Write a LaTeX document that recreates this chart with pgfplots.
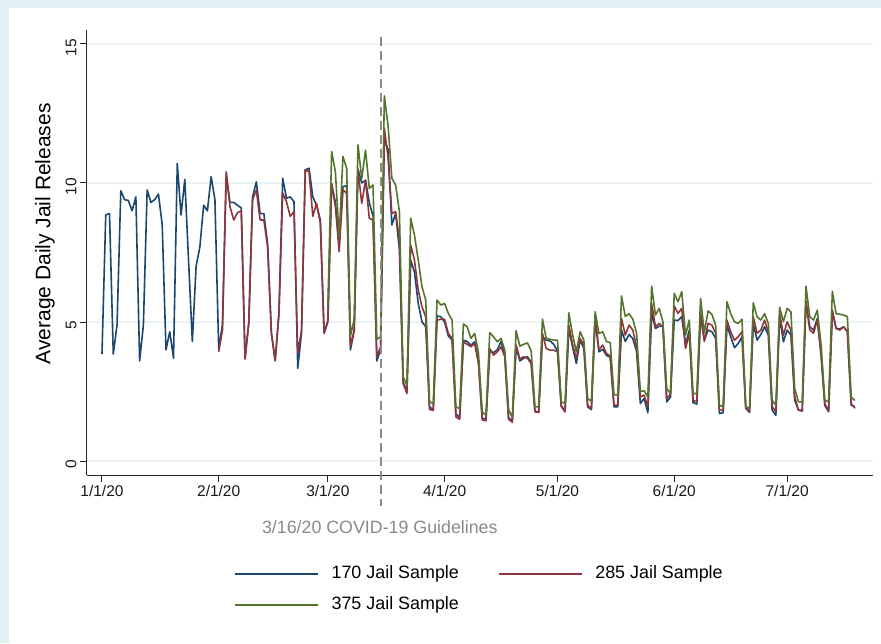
\documentclass[border=0pt]{standalone}
\usepackage{pgfplots}
\pgfplotsset{compat=1.18}
\usepackage{pgfplotstable}
\usepackage{fontspec}
\setmainfont{Liberation Sans}

\definecolor{sNavy}{HTML}{1A476F}
\definecolor{sMaroon}{HTML}{90353B}
\definecolor{sGreen}{HTML}{55752F}
\definecolor{sGrid}{HTML}{EAF2F3}
\definecolor{sBack}{HTML}{E0F0F4}
\definecolor{sLine}{HTML}{8A8A8A}

% day index (0 = 1/1/20), average daily releases
\pgfplotstableread{
d v
0 3.85
1 8.85
2 8.90
3 3.85
4 4.90
5 9.72
6 9.40
7 9.37
8 9.00
9 9.50
10 3.60
11 4.90
12 9.75
13 9.30
14 9.40
15 9.60
16 8.50
17 4.00
18 4.65
19 3.70
20 10.70
21 8.85
22 10.13
23 7.20
24 4.30
25 7.00
26 7.70
27 9.20
28 9.00
29 10.23
30 9.40
31 4.05
32 4.90
33 10.30
34 9.30
35 9.30
36 9.20
37 9.10
38 3.70
39 5.00
40 9.50
41 10.04
42 8.90
43 8.90
44 7.80
45 4.60
46 3.60
47 5.30
48 10.17
49 9.45
50 9.50
51 9.33
52 3.34
53 4.60
54 10.47
55 10.53
56 9.50
57 9.20
58 8.67
59 4.60
60 5.00
61 9.95
62 9.30
63 7.90
64 9.87
65 9.90
66 4.00
67 4.70
68 10.50
69 10.00
70 10.10
71 9.30
72 8.80
73 3.60
74 4.00
75 11.55
76 11.20
77 8.49
78 8.90
79 7.60
80 2.85
81 2.50
82 7.23
83 6.80
84 5.67
85 5.01
86 4.83
87 1.95
88 1.85
89 5.22
90 5.19
91 5.00
92 4.50
93 4.35
94 1.71
95 1.55
96 4.35
97 4.30
98 4.17
99 4.29
100 3.60
101 1.55
102 1.50
103 3.95
104 3.90
105 4.00
106 4.30
107 3.80
108 1.55
109 1.45
110 4.10
111 3.60
112 3.70
113 3.75
114 3.55
115 1.80
116 1.75
117 4.47
118 4.35
119 4.32
120 4.20
121 3.95
122 1.98
123 1.80
124 4.77
125 4.10
126 3.51
127 4.35
128 4.05
129 1.95
130 1.85
131 5.10
132 3.93
133 4.02
134 3.80
135 3.73
136 1.95
137 1.95
138 4.71
139 4.30
140 4.55
141 4.40
142 3.95
143 2.07
144 2.25
145 1.74
146 5.31
147 4.77
148 4.85
149 4.85
150 2.13
151 2.30
152 5.07
153 5.05
154 5.19
155 4.20
156 4.70
157 2.10
158 2.05
159 5.19
160 4.35
161 4.71
162 4.65
163 4.41
164 1.71
165 1.74
166 4.89
167 4.47
168 4.08
169 4.23
170 4.47
171 1.90
172 1.75
173 4.95
174 4.35
175 4.55
176 4.83
177 4.53
178 1.83
179 1.65
180 5.19
181 4.29
182 4.71
183 4.53
184 2.19
185 1.83
186 1.80
187 5.73
188 4.83
189 4.71
190 5.13
191 3.80
192 2.00
193 1.78
194 5.37
195 4.77
196 4.75
197 4.83
198 4.65
199 2.01
200 1.96
}\sampleA

\pgfplotstableread{
d v
31 3.93
32 4.70
33 10.40
34 9.15
35 8.67
36 8.93
37 9.00
38 3.67
39 4.96
40 9.40
41 9.75
42 8.67
43 8.67
44 7.70
45 4.60
46 3.63
47 5.30
48 9.63
49 9.33
50 8.80
51 8.97
52 3.88
53 4.70
54 10.47
55 10.40
56 8.80
57 9.27
58 8.55
59 4.60
60 5.07
61 9.99
62 9.15
63 7.53
64 9.75
65 9.63
66 4.11
67 4.70
68 10.47
69 9.27
70 10.10
71 8.73
72 8.67
73 3.75
74 4.11
75 11.97
76 10.90
77 8.90
78 8.97
79 7.95
80 2.79
81 2.43
82 7.77
83 7.23
84 6.15
85 5.55
86 5.19
87 1.86
88 1.82
89 5.07
90 5.10
91 5.10
92 4.59
93 4.41
94 1.59
95 1.50
96 4.29
97 4.20
98 4.11
99 4.23
100 3.50
101 1.48
102 1.45
103 4.05
104 3.81
105 3.93
106 4.11
107 3.75
108 1.50
109 1.40
110 4.17
111 3.67
112 3.75
113 3.70
114 3.51
115 1.77
116 1.75
117 4.59
118 4.05
119 3.99
120 3.99
121 3.93
122 1.96
123 1.77
124 4.89
125 4.20
126 3.69
127 4.41
128 4.17
129 2.00
130 1.90
131 5.19
132 4.00
133 4.17
134 3.87
135 3.78
136 2.01
137 2.01
138 5.13
139 4.53
140 4.89
141 4.71
142 4.11
143 2.31
144 2.37
145 1.96
146 5.67
147 4.83
148 4.95
149 4.83
150 2.25
151 2.40
152 5.58
153 5.31
154 5.49
155 4.05
156 4.59
157 2.19
158 2.13
159 5.37
160 4.30
161 4.95
162 4.89
163 4.60
164 1.83
165 1.83
166 5.07
167 4.65
168 4.35
169 4.47
170 4.65
171 1.95
172 1.77
173 5.19
174 4.60
175 4.71
176 5.07
177 4.65
178 1.96
179 1.78
180 5.31
181 4.53
182 5.01
183 4.71
184 2.31
185 1.83
186 1.83
187 5.73
188 4.71
189 4.60
190 5.07
191 3.90
192 2.07
193 1.78
194 5.43
195 4.77
196 4.71
197 4.83
198 4.65
199 2.07
200 1.90
}\sampleB

\pgfplotstableread{
d v
60 5.55
61 11.13
62 10.40
63 8.03
64 10.95
65 10.53
66 4.50
67 5.10
68 11.37
69 10.15
70 11.18
71 9.80
72 9.93
73 4.38
74 4.47
75 13.13
76 12.05
77 10.17
78 9.93
79 8.97
80 3.03
81 2.73
82 8.73
83 8.13
84 7.23
85 6.27
86 5.79
87 2.13
88 2.07
89 5.79
90 5.61
91 5.67
92 5.31
93 5.07
94 1.95
95 1.89
96 4.93
97 4.83
98 4.41
99 4.59
100 3.90
101 1.77
102 1.65
103 4.62
104 4.47
105 4.29
106 4.41
107 3.99
108 1.86
109 1.56
110 4.69
111 4.13
112 4.20
113 4.25
114 3.97
115 1.95
116 1.95
117 5.10
118 4.41
119 4.38
120 4.35
121 4.35
122 2.13
123 2.07
124 5.33
125 4.55
126 3.93
127 4.65
128 4.35
129 2.25
130 2.15
131 5.37
132 4.59
133 4.65
134 4.30
135 4.26
136 2.38
137 2.38
138 5.94
139 5.20
140 5.30
141 5.10
142 4.60
143 2.50
144 2.53
145 2.31
146 6.29
147 5.25
148 5.49
149 5.01
150 2.61
151 2.43
152 6.03
153 5.73
154 6.09
155 4.53
156 5.07
157 2.43
158 2.43
159 5.85
160 4.62
161 5.40
162 5.28
163 4.89
164 2.00
165 1.97
166 5.73
167 5.30
168 5.01
169 4.95
170 5.10
171 1.95
172 1.90
173 5.69
174 5.19
175 5.07
176 5.30
177 4.95
178 2.19
179 2.01
180 5.53
181 5.01
182 5.49
183 5.37
184 2.61
185 2.13
186 2.13
187 6.29
188 5.19
189 5.07
190 5.43
191 4.20
192 2.19
193 2.13
194 6.10
195 5.30
196 5.28
197 5.25
198 5.19
199 2.30
200 2.18
}\sampleC

\begin{document}
\begin{tikzpicture}[x=1pt,y=1pt]
\useasboundingbox (0,0) rectangle (881,643);
\fill[sBack] (0,0) rectangle (881,643);
\fill[white] (9,0) rectangle (881,635);
\begin{axis}[
  scale only axis, width=786pt, height=445pt,
  at={(87pt,168pt)}, anchor=south west,
  xmin=-3.98, xmax=204.8, ymin=-0.5, ymax=15.5,
  clip=false,
  axis x line*=bottom, axis y line*=left,
  axis line style={line width=1pt, color=black!85, -},
  xtick={0,31,60,91,121,152,182},
  xticklabels={1/1/20,2/1/20,3/1/20,4/1/20,5/1/20,6/1/20,7/1/20},
  ytick={0,5,10,15}, yticklabels={0,5,10,15},
  tick align=outside, major tick length=7pt,
  tick style={line width=1pt, color=black!85},
  ymajorgrids, major grid style={sGrid, line width=1.5pt},
  ticklabel style={font=\fontsize{15.5}{18}\selectfont, text=black!90},
  yticklabel style={rotate=90, anchor=south, xshift=-3.5pt},
  ylabel={Average Daily Jail Releases},
  every axis y label/.style={at={(axis description cs:-0.0534,0.542)}, rotate=90, anchor=center, font=\fontsize{21}{24}\selectfont},
  legend style={at={(0.187,-0.203)}, anchor=north west, draw=none, fill=none,
    inner sep=0pt, font=\fontsize{17.9}{20}\selectfont,
    nodes={inner sep=0pt, text height=13pt, text depth=4pt},
    row sep=14pt,
    /tikz/every odd column/.append style={column sep=12.5pt},
    /tikz/every even column/.append style={column sep=39pt}},
  legend columns=2, legend cell align=left,
  legend image code/.code={\draw[#1, line width=1.9pt] (0pt,0pt) -- (83pt,0pt);},
  every axis plot/.append style={no markers, line width=1.6pt, line join=round},
]
\addplot[sNavy] table[x=d, y=v] {\sampleA};
\addlegendentry{170 Jail Sample}
\addplot[sMaroon] table[x=d, y=v] {\sampleB};
\addlegendentry{285 Jail Sample}
\addplot[sGreen] table[x=d, y=v] {\sampleC};
\addlegendentry{375 Jail Sample}
\draw[sLine, line width=1.3pt, dash pattern=on 9pt off 5pt] (axis cs:74.1,15.25) -- (axis cs:74.1,-1.62);
\node[text=sLine, font=\fontsize{17.8}{20}\selectfont] at (axis cs:73.8,-2.37) {3/16/20 COVID-19 Guidelines};
\end{axis}
\end{tikzpicture}
\end{document}
